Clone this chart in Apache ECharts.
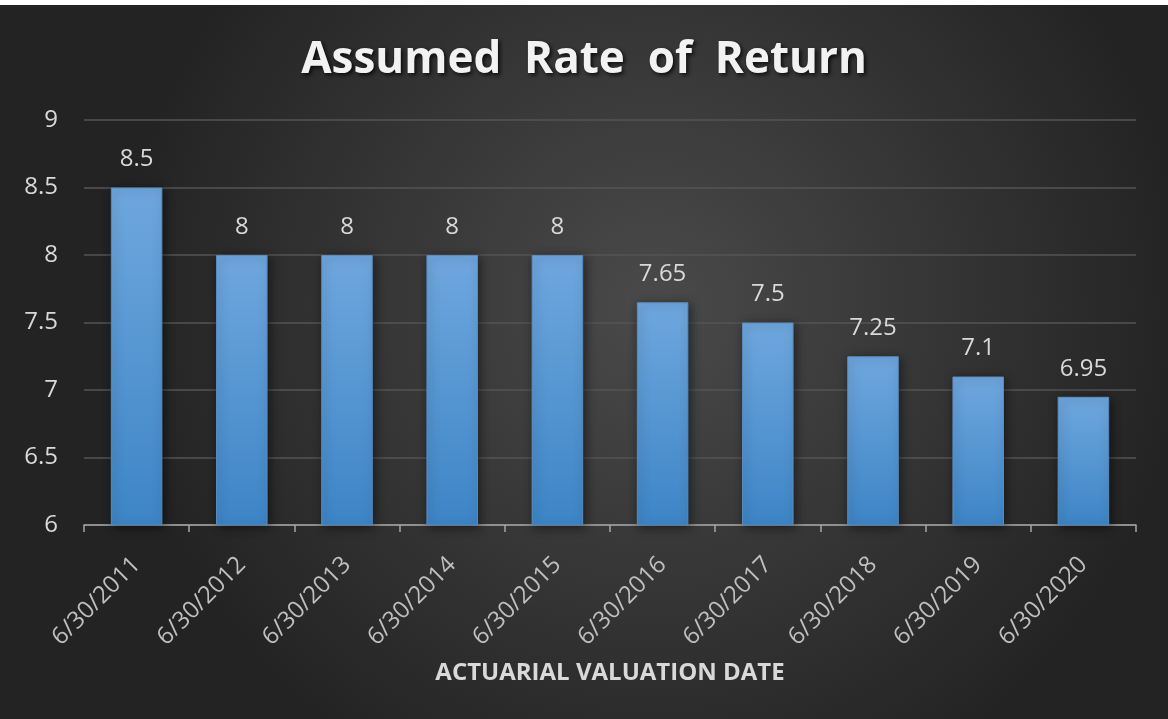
<!DOCTYPE html>
<html><head><meta charset="utf-8">
<script src="https://cdn.jsdelivr.net/npm/echarts@6/dist/echarts.min.js"></script>
<style>html,body{margin:0;padding:0;background:#fff;}#c{position:absolute;left:0;top:5px;width:1168px;height:714px;}</style>
</head><body><div id="c"></div>
<script>
const categories = ['6/30/2011','6/30/2012','6/30/2013','6/30/2014','6/30/2015','6/30/2016','6/30/2017','6/30/2018','6/30/2019','6/30/2020'];
const rates = [8.5, 8, 8, 8, 8, 7.65, 7.5, 7.25, 7.1, 6.95];
const chart = echarts.init(document.getElementById('c'), null, {renderer:'canvas'});
chart.setOption({
  backgroundColor: new echarts.graphic.RadialGradient(0.56, 0.42, 0.75, [
    {offset:0, color:'#4a4a4a'}, {offset:1, color:'#232323'}
  ]),
  title: {
    text: 'Assumed  Rate  of  Return', left: 'center', top: 28,
    textStyle: {color:'#f2f2f2', fontFamily:'Open Sans', fontWeight:'bold', fontSize:44,
      textShadowColor:'rgba(0,0,0,0.8)', textShadowBlur:4, textShadowOffsetX:2, textShadowOffsetY:2}
  },
  grid: {left:84, right:32, top:115, bottom:194, containLabel:false},
  xAxis: {
    type:'category', data: categories,
    name:'ACTUARIAL VALUATION DATE', nameLocation:'middle', nameGap:136,
    nameTextStyle:{color:'#d9d9d9', fontFamily:'Open Sans', fontWeight:'bold', fontSize:24},
    axisLine:{lineStyle:{color:'#a6a6a6', width:1.5}},
    axisTick:{show:true, length:7, lineStyle:{color:'#a6a6a6', width:1.5}},
    axisLabel:{rotate:45, color:'#bfbfbf', fontFamily:'Open Sans', fontSize:24, margin:36}
  },
  yAxis: {
    type:'value', min:6, max:9, interval:0.5,
    axisLine:{show:false}, axisTick:{show:false},
    axisLabel:{color:'#d9d9d9', fontFamily:'Open Sans', fontSize:24, margin:26},
    splitLine:{lineStyle:{color:'#555555', width:1.5}}
  },
  series: [{
    type:'bar', data: rates, barWidth:'49%',
    itemStyle:{
      color: new echarts.graphic.LinearGradient(0,0,0,1,[{offset:0,color:'#6fa7de'},{offset:1,color:'#3d85c6'}]),
      borderColor:'#5a8cc0', borderWidth:1,
      shadowColor:'rgba(0,0,0,0.5)', shadowBlur:10, shadowOffsetX:2, shadowOffsetY:2
    },
    label:{show:true, position:'top', distance:16, color:'#d9d9d9', fontFamily:'Open Sans', fontSize:24}
  }]
});
</script></body></html>
